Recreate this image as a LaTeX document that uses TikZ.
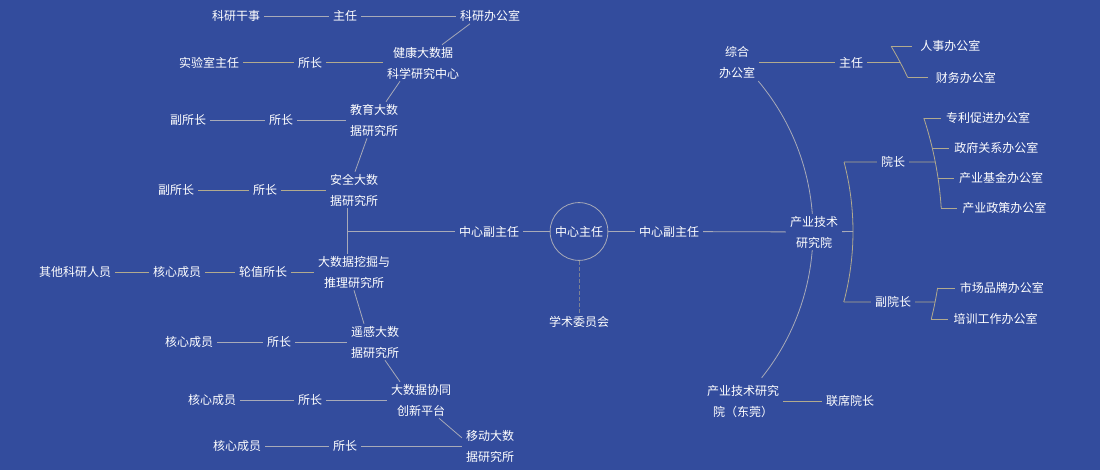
\documentclass[tikz,border=0pt]{standalone}
\usepackage{fontspec}
\setmainfont{Noto Sans CJK SC}
\usetikzlibrary{calc}

\definecolor{bgblue}{RGB}{51,76,157}
\definecolor{lngray}{RGB}{168,170,184}
\definecolor{lntan}{RGB}{178,170,142}
\definecolor{dashgray}{RGB}{125,130,148}

\tikzset{
  lbl/.style={text=white, font=\fontsize{12}{21}\selectfont, inner xsep=4pt, inner ysep=2pt},
  blk/.style={lbl, align=center},
  gl/.style={lngray, line width=0.8pt},
  tl/.style={lntan, line width=0.8pt},
  tick/.style={tl, shorten >=1pt},
}

\begin{document}
\begin{tikzpicture}[x=1pt, y=-1pt]
  \fill[bgblue] (0,0) rectangle (1100,470);
  \useasboundingbox (0,0) rectangle (1100,470);

  \node[circle, draw=lngray, line width=0.8pt, minimum size=57pt, inner sep=0pt, lbl] (zx) at (579,231.5) {中心主任};
  \node[lbl] (xs) at (579,322) {学术委员会};
  \draw[dashgray, line width=0.8pt, dash pattern=on 4pt off 2pt] (zx) -- (xs);

  % left ring
  \node[lbl] (kyb) at (490,16) {科研办公室};
  \node[blk] (jk) at (423,63) {健康大数据\\科学研究中心};
  \node[blk] (jy) at (374,120) {教育大数\\据研究所};
  \node[blk] (aq) at (354,190) {安全大数\\据研究所};
  \node[blk] (wj) at (354,272) {大数据挖掘与\\推理研究所};
  \node[blk] (yg) at (375,342) {遥感大数\\据研究所};
  \node[blk] (xt) at (421,400) {大数据协同\\创新平台};
  \node[blk] (yd) at (490,446) {移动大数\\据研究所};
  \coordinate (lj) at (347,231.5);

  \draw[gl] ([xshift=-20]kyb.south) -- ([xshift=19]jk.north);
  \draw[gl] ([xshift=-23]jk.south) -- ([xshift=12]jy.north);
  \draw[gl] ([xshift=-7]jy.south) -- ([xshift=1]aq.north);
  \draw[gl] (aq.south -| lj) -- (wj.north -| lj);
  \draw[gl] (wj.south) -- ([xshift=-11]yg.north);
  \draw[gl] ([xshift=10]yg.south) -- ([xshift=-21]xt.north);
  \draw[gl] ([xshift=18]xt.south) -- ([yshift=-10]yd.north west);

  \node[lbl] (fzl) at (489,231.5) {中心副主任};
  \draw[gl] (lj) -- (fzl);
  \draw[gl] (fzl) -- (zx);

  % left rows
  \node[lbl] (kygs) at (236,16) {科研干事};
  \node[lbl] (zr1) at (345,16) {主任};
  \draw[gl] (kygs) -- (zr1);
  \draw[gl] (zr1) -- (kyb);

  \node[lbl] (sysz) at (209,62.5) {实验室主任};
  \node[lbl] (sz1) at (310,62.5) {所长};
  \draw[tl] (sysz) -- (sz1);
  \draw[tl] (sz1) -- (sz1 -| jk.west);

  \node[lbl] (fsz1) at (188,120) {副所长};
  \node[lbl] (sz2) at (281,120) {所长};
  \draw[gl] (fsz1) -- (sz2);
  \draw[gl] (sz2) -- (jy);

  \node[lbl] (fsz2) at (176,190) {副所长};
  \node[lbl] (sz3) at (265,190) {所长};
  \draw[tl] (fsz2) -- (sz3);
  \draw[tl] (sz3) -- (aq);

  \node[lbl] (qt) at (75,272) {其他科研人员};
  \node[lbl] (hx1) at (177,272) {核心成员};
  \node[lbl] (lz) at (263,272) {轮值所长};
  \draw[tl] (qt) -- (hx1);
  \draw[tl] (hx1) -- (lz);
  \draw[tl] (lz) -- (wj);

  \node[lbl] (hx2) at (189,342) {核心成员};
  \node[lbl] (sz4) at (279,342) {所长};
  \draw[gl] (hx2) -- (sz4);
  \draw[gl] (sz4) -- (yg);

  \node[lbl] (hx3) at (212,400) {核心成员};
  \node[lbl] (sz5) at (310,400) {所长};
  \draw[gl] (hx3) -- (sz5);
  \draw[gl] (sz5) -- (xt);

  \node[lbl] (hx4) at (237,446) {核心成员};
  \node[lbl] (sz6) at (345,446) {所长};
  \draw[gl] (hx4) -- (sz6);
  \draw[gl] (sz6) -- (yd);

  % right side
  \draw[gl] ($(zx.center)+(-40:234)$) arc[start angle=-40, end angle=38.7, radius=234];
  \node[blk, fill=bgblue] (cy) at (814,232) {产业技术\\研究院};
  \node[lbl] (fzr) at (669,231.5) {中心副主任};
  \draw[gl] (zx) -- (fzr);
  \draw[gl] (fzr) -- (cy);

  \node[blk] (zh) at (737,62.5) {综合\\办公室};
  \node[blk] (dg) at (743,401) {产业技术研究\\院（东莞）};
  \node[lbl] (lx) at (850,401) {联席院长};
  \draw[tl] (dg) -- (lx);

  \node[lbl] (zr2) at (851,62.5) {主任};
  \coordinate (b1m) at ($(zx.center)+(-27.75:363)$);
  \coordinate (b1a) at ($(zx.center)+(-30.7:363)$);
  \coordinate (b1b) at ($(zx.center)+(-25.1:363)$);
  \draw[tl] (zh) -- (zr2);
  \draw[tl] (zr2) -- (b1m);
  \draw[tl] (b1a) arc[start angle=-30.7, end angle=-25.1, radius=363];
  \node[lbl, anchor=west] (rs) at ([xshift=25]b1a) {人事办公室};
  \node[lbl, anchor=west] (cw) at ([xshift=24]b1b) {财务办公室};
  \draw[tl, shorten >=4pt] (b1a) -- (rs);
  \draw[tl, shorten >=4pt] (b1b) -- (cw);

  \coordinate (r2a) at ($(zx.center)+(-14.69:274)$);
  \coordinate (r2m) at ($(zx.center)+(0:274)$);
  \coordinate (r2b) at ($(zx.center)+(14.91:274)$);
  \draw[tl] (r2a) arc[start angle=-14.69, end angle=14.91, radius=274];
  \draw[gl] (cy) -- (r2m);
  \node[lbl] (yz) at (893,162) {院长};
  \node[lbl] (fyz) at (893,302) {副院长};
  \draw[tl] (r2a) -- (yz);
  \draw[tl] (r2b) -- (fyz);

  \coordinate (b2m) at ($(zx.center)+(-11.04:363)$);
  \coordinate (b2a) at ($(zx.center)+(-18.2:363)$);
  \coordinate (b2b) at ($(zx.center)+(-13.3:363)$);
  \coordinate (b2c) at ($(zx.center)+(-8.48:363)$);
  \coordinate (b2d) at ($(zx.center)+(-3.71:363)$);
  \draw[tl] (yz) -- (b2m);
  \draw[tl] (b2a) arc[start angle=-18.2, end angle=-3.71, radius=363];
  \node[lbl, anchor=west] (zl) at ([xshift=18]b2a) {专利促进办公室};
  \node[lbl, anchor=west] (zf) at ([xshift=18]b2b) {政府关系办公室};
  \node[lbl, anchor=west] (jj) at ([xshift=17]b2c) {产业基金办公室};
  \node[lbl, anchor=west] (zc) at ([xshift=17]b2d) {产业政策办公室};
  \draw[tick] (b2a) -- (zl);
  \draw[tick] (b2b) -- (zf);
  \draw[tick] (b2c) -- (jj);
  \draw[tick] (b2d) -- (zc);

  \coordinate (b3m) at ($(zx.center)+(11.2:363)$);
  \coordinate (b3a) at ($(zx.center)+(8.95:363)$);
  \coordinate (b3b) at ($(zx.center)+(13.95:363)$);
  \draw[tl] (fyz) -- (b3m);
  \draw[tl] (b3a) arc[start angle=8.95, end angle=13.95, radius=363];
  \node[lbl, anchor=west] (sc) at ([xshift=18]b3a) {市场品牌办公室};
  \node[lbl, anchor=west] (px) at ([xshift=18]b3b) {培训工作办公室};
  \draw[tick] (b3a) -- (sc);
  \draw[tick] (b3b) -- (px);
\end{tikzpicture}
\end{document}
